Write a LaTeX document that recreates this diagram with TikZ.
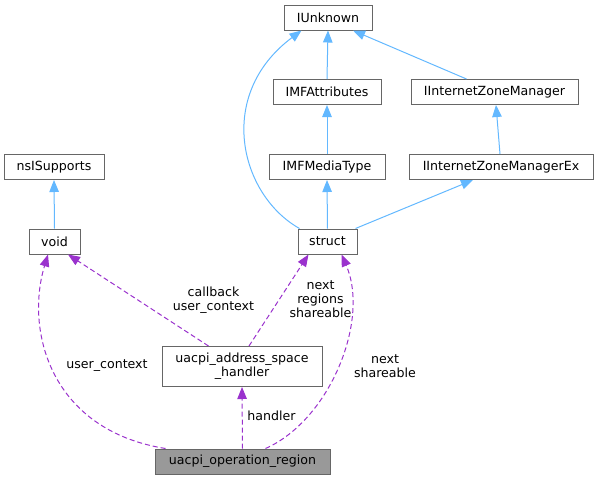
\documentclass[tikz,border=0pt]{standalone}
\usepackage{fontspec}
\setmainfont{DejaVu Sans}
\usetikzlibrary{arrows.meta,calc}
\definecolor{inhblue}{HTML}{63B8FF}
\definecolor{usepurple}{HTML}{9A32CD}
\definecolor{boxgray}{HTML}{666666}
\definecolor{opgray}{HTML}{999999}
\begin{document}
\begin{tikzpicture}[x=1pt,y=-1pt,
  box/.style={draw=boxgray, line width=1pt, fill=white, inner sep=0pt, minimum height=25pt,
    font=\fontsize{12.6}{14}\selectfont, align=center},
  lbl/.style={inner sep=0pt, font=\fontsize{12.6}{14}\selectfont, align=center},
  inh/.style={draw=inhblue, line width=1pt, -{Triangle[length=12pt,width=9.5pt]}},
  usage/.style={draw=usepurple, line width=1pt, dash pattern=on 5pt off 3pt,
    -{Triangle[length=12pt,width=9.5pt]}}]
\useasboundingbox (0,0) rectangle (598,480);
% nodes
\node[box, minimum width=88pt] (iunk) at (328,17.5) {IUnknown};
\node[box, minimum width=108pt] (imfa) at (327,92) {IMFAttributes};
\node[box, minimum width=167pt] (izm) at (494.5,92) {IInternetZoneManager};
\node[box, minimum width=116pt] (imft) at (327,167) {IMFMediaType};
\node[box, minimum width=184pt] (izmex) at (501,167) {IInternetZoneManagerEx};
\node[box, minimum width=100pt] (nssup) at (54,167) {nsISupports};
\node[box, minimum width=51pt] (void) at (54.5,241.5) {void};
\node[box, minimum width=59pt] (struct) at (327.5,241.5) {struct};
\node[box, minimum width=160pt, minimum height=40pt] (ash) at (242,366.5) {uacpi\_address\_space\\\_handler};
\node[box, fill=opgray, minimum width=175pt] (op) at (242.5,461.5) {uacpi\_operation\_region};
% inheritance edges
\draw[inh] (imfa.north) -- (iunk.south);
\draw[inh] ($(izm.north)+(-28,0)$) -- ($(iunk.south)+(25,0)$);
\draw[inh] (imft.north) -- (imfa.south);
\draw[inh] ($(izmex.north)+(-1,0)$) -- ($(izm.south)+(1.5,0)$);
\draw[inh] (struct.north) -- (imft.south);
\draw[inh] ($(struct.north east)+(-2,0)$) -- ($(izmex.south)+(-28,0)$);
\draw[inh] ($(struct.north west)+(2,0)$) .. controls (240,195) and (215,95) .. ($(iunk.south west)+(18,0)$);
\draw[inh] (void.north) -- (nssup.south);
% usage edges
\draw[usage] ($(ash.north west)+(47,0)$) -- ($(void.south)+(13.5,0)$);
\draw[usage] ($(ash.north)+(7,0)$) -- ($(struct.south)+(-19,0)$);
\draw[usage] (op.north) -- (ash.south);
\draw[usage] ($(op.north west)+(11,0)$) .. controls (50,430) and (25,330) .. ($(void.south)+(-6.5,0)$);
\draw[usage] ($(op.north)+(23,0)$) .. controls (330,420) and (370,320) .. ($(struct.south)+(14,0)$);
% labels
\node[lbl] (l1) at (213.5,300) {callback\\user\_context};
\node[lbl] (l2) at (320.5,299) {next\\regions\\shareable};
\node[lbl] (l3) at (271.5,416) {handler};
\node[lbl] (l4) at (107,366) {user\_context};
\node[lbl] (l5) at (385,366) {next\\shareable};
\end{tikzpicture}
\end{document}
